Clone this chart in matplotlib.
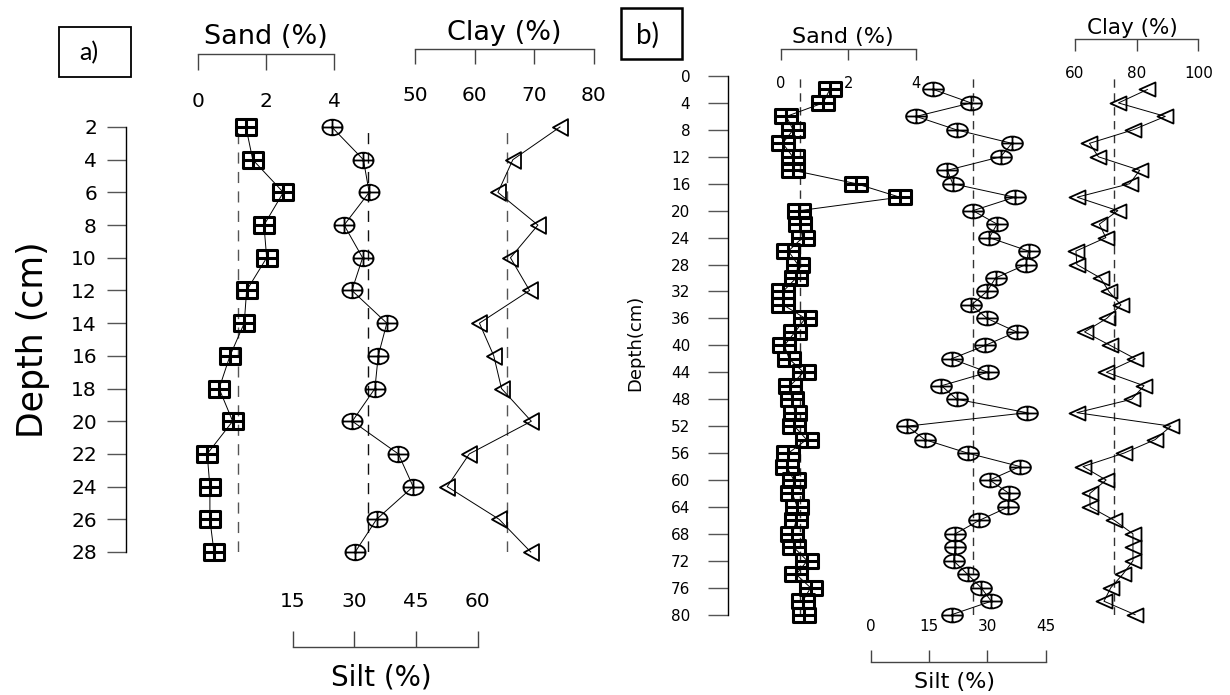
import matplotlib
matplotlib.use('Agg')
import matplotlib.pyplot as plt
import numpy as np
from matplotlib.path import Path
from matplotlib.patches import Rectangle

plt.rcParams['font.family'] = ['DejaVu Sans']

# ---------------- data: panel a ----------------
depth_a = [2, 4, 6, 8, 10, 12, 14, 16, 18, 20, 22, 24, 26, 28]
sand_a = [1.41, 1.61, 2.51, 1.94, 2.02, 1.43, 1.36, 0.94, 0.62, 1.02, 0.27, 0.35, 0.35, 0.47]
silt_a = [24.5, 32.2, 33.6, 27.5, 32.0, 29.4, 37.9, 35.8, 35.0, 29.5, 40.7, 44.3, 35.4, 30.2]
clay_a = [74.3, 66.4, 63.9, 70.6, 66.0, 69.2, 60.8, 63.2, 64.5, 69.5, 59.1, 55.4, 64.1, 69.4]
mean_sand_a, mean_silt_a, mean_clay_a = 1.17, 33.4, 65.4
yticks_a = [2, 4, 6, 8, 10, 12, 14, 16, 18, 20, 22, 24, 26, 28]
sand_ticks_a = [0, 2, 4]
clay_ticks_a = [50, 60, 70, 80]
silt_ticks_a = [15, 30, 45, 60]

# ---------------- data: panel b ----------------
depth_b = [2, 4, 6, 8, 10, 12, 14, 16, 18, 20, 22, 24, 26, 28, 30, 32, 34, 36, 38, 40,
           42, 44, 46, 48, 50, 52, 54, 56, 58, 60, 62, 64, 66, 68, 70, 72, 74, 76, 78, 80]
sand_b = [1.45, 1.25, 0.16, 0.36, 0.05, 0.35, 0.35, 2.24, 3.53, 0.54,
          0.57, 0.64, 0.22, 0.50, 0.45, 0.06, 0.07, 0.72, 0.42, 0.10,
          0.24, 0.67, 0.27, 0.32, 0.42, 0.40, 0.76, 0.22, 0.17, 0.38,
          0.34, 0.48, 0.45, 0.34, 0.38, 0.78, 0.45, 0.88, 0.64, 0.69]
silt_b = [16.1, 25.8, 11.7, 22.1, 36.3, 33.4, 19.7, 21.1, 37.0, 26.3,
          32.5, 30.5, 40.6, 39.9, 32.1, 29.9, 25.9, 29.9, 37.5, 29.5,
          20.8, 30.1, 18.2, 22.1, 40.2, 9.4, 13.9, 24.9, 38.4, 30.6,
          35.6, 35.4, 27.9, 21.7, 21.7, 21.3, 24.9, 28.4, 31.0, 20.8]
clay_b = [83.5, 74.1, 89.3, 78.8, 64.7, 67.6, 81.0, 77.7, 60.7, 73.9,
          67.9, 70.0, 60.3, 60.6, 68.3, 71.0, 74.9, 70.3, 63.1, 71.4,
          79.6, 70.2, 82.4, 78.4, 60.6, 91.1, 86.0, 75.9, 62.6, 70.1,
          64.8, 64.9, 72.8, 78.8, 78.8, 78.8, 75.5, 71.6, 69.4, 79.5]
mean_sand_b, mean_silt_b, mean_clay_b = 0.56, 26.4, 72.8
yticks_b = list(range(0, 81, 4))
sand_ticks_b = [0, 2, 4]
clay_ticks_b = [60, 80, 100]
silt_ticks_b = [0, 15, 30, 45]

# ---------------- figure helpers ----------------
W, H = 1230, 695
fig = plt.figure(figsize=(12.3, 6.95), dpi=100)
PT = 0.72  # points per pixel


def ax_px(x0, y0, x1, y1):
    return fig.add_axes([x0 / W, 1 - y1 / H, (x1 - x0) / W, (y1 - y0) / H])


def sqplus(ratio):
    w, h = 0.5 * ratio, 0.5
    verts = [(-w, -h), (w, -h), (w, h), (-w, h), (-w, -h),
             (0, -h), (0, h), (-w, 0), (w, 0)]
    codes = [Path.MOVETO, Path.LINETO, Path.LINETO, Path.LINETO, Path.CLOSEPOLY,
             Path.MOVETO, Path.LINETO, Path.MOVETO, Path.LINETO]
    return Path(verts, codes)


def circplus(ratio):
    c = Path.unit_circle()
    v = c.vertices.copy() * 0.5
    v[:, 0] *= ratio
    circ = Path(v, c.codes)
    w, h = 0.5 * ratio, 0.5
    cross = Path([(0, -h), (0, h), (-w, 0), (w, 0)],
                 [Path.MOVETO, Path.LINETO, Path.MOVETO, Path.LINETO])
    return Path.make_compound_path(circ, cross)


def triLeft(ratio):
    w, h = 0.5 * ratio, 0.5
    return Path([(-w, 0), (w, h), (w, -h), (-w, 0)],
                [Path.MOVETO, Path.LINETO, Path.LINETO, Path.CLOSEPOLY])


def series(x0, x1, xlim, y0, y1, ylim, vals, depth, marker, ms, mew, mean, dash, dcol):
    ax = ax_px(x0, y0, x1, y1)
    ax.set_xlim(xlim)
    ax.set_ylim(ylim)
    ax.axis('off')
    ax.axvline(mean, color=dcol, lw=1.0, ls=dash, zorder=1)
    ax.plot(vals, depth, '-', color='k', lw=0.7, marker=marker, ms=ms,
            mfc='none', mec='k', mew=mew, clip_on=False, zorder=3)
    return ax


def bracket(x0, x1, xlim, ypx, ticks, direction, tlen, pad, fs, title=None,
            tdy=0, tfs=16, tx=None):
    if direction == 'down':
        ax = ax_px(x0, ypx - 1, x1, ypx)
        side = 'bottom'
    else:
        ax = ax_px(x0, ypx, x1, ypx + 1)
        side = 'top'
    ax.set_xlim(xlim)
    ax.patch.set_visible(False)
    for s in ['left', 'right', 'top', 'bottom']:
        ax.spines[s].set_visible(s == side)
    ax.spines[side].set_color('#444444')
    ax.spines[side].set_linewidth(1.0)
    ax.set_yticks([])
    ax.xaxis.set_ticks_position(side)
    ax.set_xticks(ticks)
    ax.set_xticklabels([str(t) for t in ticks])
    ax.tick_params(axis='x', direction='out', length=tlen * PT, width=1.0,
                   color='#444444', pad=pad * PT, labelsize=fs,
                   labeltop=(side == 'top'), labelbottom=(side == 'bottom'))
    if title:
        ax.annotate(title, xy=(0.5 if tx is None else tx, 0.5), xycoords='axes fraction',
                    xytext=(0, tdy * PT), textcoords='offset points',
                    ha='center', va='center', fontsize=tfs)
    return ax


def depth_axis(xpx, y0, y1, ylim, ticks, tlen, pad, fs, label, lx, ly, lfs):
    ax = ax_px(xpx, y0, xpx + 1, y1)
    ax.set_ylim(ylim)
    ax.patch.set_visible(False)
    for s in ['right', 'top', 'bottom']:
        ax.spines[s].set_visible(False)
    ax.spines['left'].set_color('k')
    ax.spines['left'].set_linewidth(1.0)
    ax.set_xticks([])
    ax.set_yticks(ticks)
    ax.set_yticklabels([str(t) for t in ticks])
    ax.tick_params(axis='y', direction='out', length=tlen * PT, width=1.0,
                   color='#555555', pad=pad * PT, labelsize=fs)
    ax.set_ylabel(label, fontsize=lfs)
    ax.yaxis.set_label_coords(lx / W, 1 - ly / H, transform=fig.transFigure)
    ax.yaxis.label.set_va('center')
    return ax


def box(x0, y0, x1, y1, lw, txt, tx, ty, fs):
    fig.add_artist(Rectangle((x0 / W, 1 - y1 / H), (x1 - x0) / W, (y1 - y0) / H,
                             transform=fig.transFigure, fill=False, ec='k', lw=lw))
    fig.text(tx / W, 1 - ty / H, txt, ha='center', va='center', fontsize=fs,
             family='Lato')


# ---------------- panel a ----------------
YA0, YA1 = 127, 552
ylim_a = (28, 2)
dash_a = (0, (8, 6))
series(198, 334, (0, 4), YA0, YA1, ylim_a, sand_a, depth_a, sqplus(1.23), 14.0, 2.2,
       mean_sand_a, dash_a, '#555555')
series(292.7, 477.7, (15, 60), YA0, YA1, ylim_a, silt_a, depth_a, circplus(1.29), 14.5, 1.3,
       mean_silt_a, dash_a, '#111111')
series(415, 594, (50, 80), YA0, YA1, ylim_a, clay_a, depth_a, triLeft(0.9), 12.0, 1.3,
       mean_clay_a, dash_a, '#555555')

bracket(198, 334, (0, 4), 54, sand_ticks_a, 'down', 16, 22, 14.5,
        'Sand (%)', 17, 19.5)
bracket(415, 594, (50, 80), 49, clay_ticks_a, 'down', 15, 22, 14.5,
        'Clay (%)', 16, 19.5)
bracket(292.7, 477.7, (15, 60), 647, silt_ticks_a, 'up', 16, 20, 14.5,
        'Silt (%)', -30, 20, tx=(381.7 - 292.7) / (477.7 - 292.7))

depth_axis(126, YA0, YA1, ylim_a, yticks_a, 19, 10, 14.5, 'Depth (cm)', 33, 340, 25)
box(58.5, 26.7, 131.2, 77.3, 1.3, 'a)', 89, 53, 18)

# ---------------- panel b ----------------
YB0, YB1 = 76, 614.7
ylim_b = (80, 0)
dash_b = (0, (6, 4))
series(781, 915.6, (0, 4), YB0, YB1, ylim_b, sand_b, depth_b, sqplus(1.65), 15.5, 2.2,
       mean_sand_b, dash_b, '#333333')
series(870.7, 1045.7, (0, 45), YB0, YB1, ylim_b, silt_b, depth_b, circplus(1.5), 15.0, 1.3,
       mean_silt_b, dash_b, '#333333')
series(1075, 1198.3, (60, 100), YB0, YB1, ylim_b, clay_b, depth_b, triLeft(1.13), 11.5, 1.3,
       mean_clay_b, dash_b, '#333333')

bracket(781, 915.6, (0, 4), 49, sand_ticks_b, 'down', 11, 16, 10.5,
        'Sand (%)', 12, 16, tx=(843.3 - 781) / (915.6 - 781))
bracket(1075, 1198.3, (60, 100), 39.3, clay_ticks_b, 'down', 12, 15, 11,
        'Clay (%)', 11, 15.5, tx=(1132 - 1075) / (1198.3 - 1075))
bracket(870.7, 1045.7, (0, 45), 661.7, silt_ticks_b, 'up', 12, 16, 11,
        'Silt (%)', -20, 16, tx=(954.3 - 870.7) / (1045.7 - 870.7))

depth_axis(728.3, YB0, YB1, ylim_b, yticks_b, 20, 18, 11, 'Depth(cm)', 635, 343, 13)
box(620.5, 8.3, 681.7, 59.3, 1.8, 'b)', 648, 35, 20)

fig.savefig('out.png', dpi=100)
